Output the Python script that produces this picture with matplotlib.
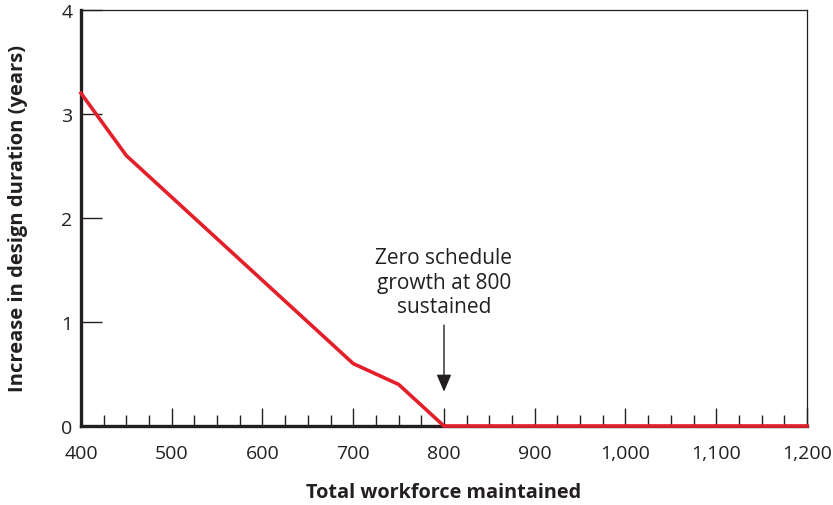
import matplotlib
matplotlib.use("Agg")
import matplotlib.pyplot as plt
from matplotlib.ticker import MultipleLocator, FuncFormatter

workforce = [400, 450, 500, 550, 600, 650, 700, 750, 800, 850, 900, 950, 1000, 1050, 1100, 1150, 1200]
increase = [3.2, 2.6, 2.2, 1.8, 1.4, 1.0, 0.6, 0.4, 0, 0, 0, 0, 0, 0, 0, 0, 0]
x_ticks = [400, 500, 600, 700, 800, 900, 1000, 1100, 1200]
y_ticks = [0, 1, 2, 3, 4]

plt.rcParams['font.family'] = ['Open Sans', 'DejaVu Sans']

fig = plt.figure(figsize=(8.33, 5.06), dpi=100)
ax = fig.add_axes([0.0972, 0.1561, 0.8716, 0.8222])

ax.plot(workforce, increase, color='#E3202A', lw=2.6, solid_joinstyle='miter',
        clip_on=False, zorder=5)

ax.set_xlim(400, 1200)
ax.set_ylim(0, 4)
ax.set_xticks(x_ticks)
ax.xaxis.set_minor_locator(MultipleLocator(25))
ax.set_yticks(y_ticks)
ax.xaxis.set_major_formatter(FuncFormatter(lambda v, p: f"{int(v):,}"))

ax.tick_params(axis='x', which='major', direction='in', length=13, width=1.0,
               color='#231f20', labelsize=14, pad=13, labelcolor='#231f20')
ax.tick_params(axis='x', which='minor', direction='in', length=8, width=1.0, color='#231f20')
ax.tick_params(axis='y', which='major', direction='in', length=15, width=1.0,
               color='#231f20', labelsize=14, pad=6, labelcolor='#231f20')

for s in ['top', 'right']:
    ax.spines[s].set_linewidth(0.9)
    ax.spines[s].set_color('#231f20')
for s in ['left', 'bottom']:
    ax.spines[s].set_linewidth(2.4)
    ax.spines[s].set_color('#231f20')

ax.set_xlabel('Total workforce maintained', fontsize=14.3, fontweight='bold',
              color='#231f20', labelpad=14)
ax.set_ylabel('Increase in design duration (years)', fontsize=14.5, fontweight='bold',
              color='#231f20', labelpad=24)

ax.annotate('Zero schedule\ngrowth at 800\nsustained', xy=(800, 0.33), xytext=(800, 1.05),
            ha='center', va='bottom', fontsize=15, color='#231f20', linespacing=1.2,
            arrowprops=dict(arrowstyle='-|>,head_length=0.7,head_width=0.3', color='#231f20',
                            lw=1.0, shrinkA=4, shrinkB=0))

fig.savefig('out.png', dpi=100)
